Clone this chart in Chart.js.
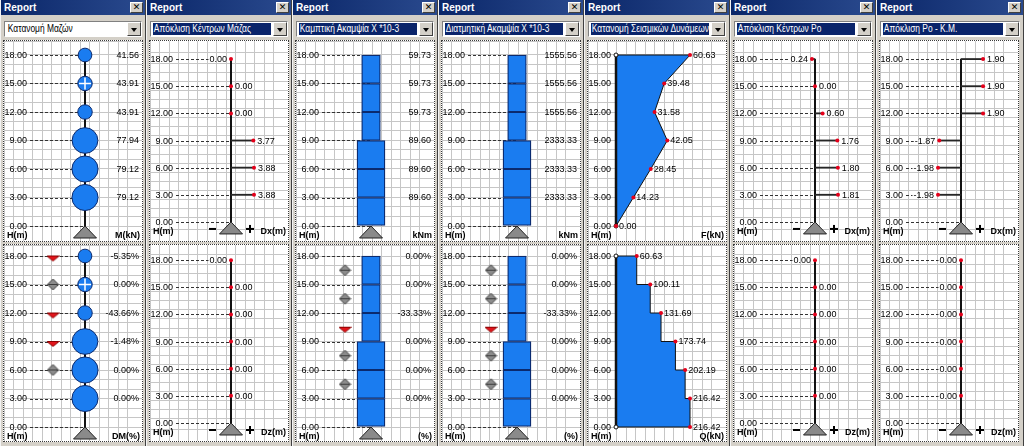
<!DOCTYPE html>
<html lang="el">
<head>
<meta charset="utf-8">
<title>Report</title>
<script src="https://cdn.jsdelivr.net/npm/chart.js@4.4.1/dist/chart.umd.min.js"></script>
<style>
  html, body { margin: 0; padding: 0; }
  body { width: 1024px; height: 446px; overflow: hidden; background: #d4d0c8; position: relative;
         font-family: "Liberation Sans", Arial, sans-serif; }
  .win { position: absolute; top: 0; height: 446px; box-sizing: border-box; background: #d4d0c8;
         border-left: 1px solid #f4f4f4; border-right: 1px solid #404040; }
  .cap { position: absolute; left: 0; right: 0; top: 0; height: 15px; box-sizing: border-box; padding-left: 3px;
         background: linear-gradient(90deg, #0a2668, #2a4a8e); color: #fff;
         font: bold 10px "Liberation Sans", Arial, sans-serif; line-height: 15px; }
  .xbtn { position: absolute; right: 2px; top: 2px; width: 13px; height: 11px; box-sizing: border-box; background: #d4d0c8;
          border: 1px solid; border-color: #fff #404040 #404040 #fff; color: #000;
          font: bold 9px "DejaVu Sans", sans-serif; line-height: 9px; text-align: center; }
  .combo { position: absolute; left: 3px; right: 3px; top: 21px; height: 16px; box-sizing: border-box; background: #fff;
           border: 1px solid; border-color: #808080 #fff #fff #808080; }
  .combo .txt { position: absolute; left: 2px; top: 1px; height: 12px; right: 16px; overflow: hidden; white-space: nowrap;
                font: 10px "Liberation Sans", Arial, sans-serif; line-height: 12px; color: #000; }
  .combo .txt span { display: inline-block; padding-left: 1px; transform: scaleX(0.84); transform-origin: 0 50%; }
  .combo.sel .txt { background: #0a246a; color: #fff; }
  .combo .arr { position: absolute; right: 0; top: 0; width: 14px; height: 14px; box-sizing: border-box; background: #d4d0c8;
                border: 1px solid; border-color: #fff #404040 #404040 #fff; }
  .combo .arr::after { content: ""; position: absolute; left: 3px; top: 5px; border-left: 3.5px solid transparent;
                       border-right: 3.5px solid transparent; border-top: 4px solid #000; }
  .frame { position: absolute; left: 2px; width: 140px; box-sizing: border-box; border: 1px dotted #3a3a3a; background: #fff; }
  .frame canvas { display: block; }
</style>
</head>
<body>
<script>
'use strict';

var LEVELS = [18, 15, 12, 9, 6, 3];              // cotas de planta H (m), de arriba abajo
var BASE_LEVEL = 0;
var MASS = [41.56, 43.91, 43.91, 77.94, 79.12, 79.12];        // M (kN)
var MASS_DIFF = [-5.35, 0.00, -43.66, -1.48, 0.00, 0.00];     // DM (%)
var MASS_MARKED = [15];                                        // planta resaltada (cruz)
var CM_DX = [-0, 0, 0, 3.77, 3.88, 3.88];                      // -0: rotulado a la izquierda
var CM_DZ = [-0, 0, 0, 0, 0, 0];
var BEND_K = [59.73, 59.73, 59.73, 89.60, 89.60, 89.60];      // kNm *10-3
var SHEAR_K = [1555.56, 1555.56, 1555.56, 2333.33, 2333.33, 2333.33];
var K_DIFF = [0.00, 0.00, -33.33, 0.00, 0.00, 0.00];          // (%)
var FORCE_LEVELS = [18, 15, 12, 9, 6, 3, 0];
var SEISMIC_F = [60.63, 39.48, 31.58, 42.05, 28.45, 14.23, 0.00];     // F (kN)
var STOREY_Q = [60.63, 100.11, 131.69, 173.74, 202.19, 216.42, 216.42]; // Q (kN)
var RO_DX = [-0.24, 0, 0.60, 1.76, 1.80, 1.81];
var RO_DX_TEXT = ['0.24', '0.00', '0.60', '1.76', '1.80', '1.81'];
var RO_DZ = [-0, 0, 0, 0, 0, 0];
var ROCM_DX = [1.90, 1.90, 1.90, -1.87, -1.98, -1.98];
var ROCM_DZ = [-0, -0, -0, -0, -0, -0];
var TITLES = ['Κατανομή Μαζών', 'Απόκλιση Κέντρων Μάζας', 'Καμπτική Ακαμψία X *10-3',
              'Διατμητική Ακαμψία X *10-3', 'Κατανομή Σεισμικών Δυνάμεων',
              'Απόκλιση Κέντρων Ρο', 'Απόκλιση Ρο - Κ.Μ.'];

// ── Geometría de los marcos (px) ─────────────────────────
var PANEL_X = [0, 146, 292, 438, 584, 730, 876];
var CW = 138, TOP_H = 200, BOT_H = 196;
var TOP_PAD = 14, BOT_PAD = 11;   // del borde superior a la cota más alta
var PX_M = 9.5;                   // px por metro = celda de rejilla
var LABEL_R = 23;                 // borde derecho de las cotas
var AXIS_X = 81;                  // eje del edificio
var VALUE_R = 135;                // borde derecho de los valores
var MARK_X = 49;                  // columna de marcadores de variación
var F_AXIS_X = 28;                // eje de los diagramas de fuerzas
var ARM_PX = 23, BAR_PX = 28, F_PX = 74;
var BUBBLE_K = 0.165;

var BLUE = '#1a7cf0', NAVY = '#0b2a6e', INK = '#111', TXT = '#000', GRID = '#c6c6c6', RED = '#e4001b';
var FONT = '9px "Liberation Sans", Arial, sans-serif';

// ── Utilidades de dibujo ─────────────────────────────────
function X(chart, v) { return chart.scales.x.getPixelForValue(v); }
function Y(chart, v) { return chart.scales.y.getPixelForValue(v); }
function fmt(v) { return v.toFixed(2); }
function onLeft(v) { return v < 0 || Object.is(v, -0); }
function allLevels() { return LEVELS.concat([BASE_LEVEL]); }
function lowerOf(i) { return i + 1 < LEVELS.length ? LEVELS[i + 1] : BASE_LEVEL; }

function put(ctx, s, x, y, align, bold) {
  ctx.save();
  ctx.font = (bold ? 'bold ' : '') + FONT;
  ctx.fillStyle = TXT; ctx.textAlign = align; ctx.textBaseline = 'middle';
  ctx.fillText(s, x, y + 0.5);
  ctx.restore();
}
function textW(ctx, s) {
  ctx.save(); ctx.font = FONT; var w = ctx.measureText(s).width; ctx.restore(); return w;
}
function leader(ctx, x0, x1, y) {
  if (x1 <= x0) return;
  var yy = Math.round(y) + 0.5;
  ctx.save(); ctx.strokeStyle = '#333'; ctx.lineWidth = 1; ctx.setLineDash([3, 2]);
  ctx.beginPath(); ctx.moveTo(x0, yy); ctx.lineTo(x1, yy); ctx.stroke(); ctx.restore();
}
function cotes(chart, ctx) {
  allLevels().forEach(function (h) { put(ctx, fmt(h), LABEL_R, Y(chart, h), 'right'); });
}
function footer(chart, ctx, unit) {
  var y = Y(chart, BASE_LEVEL) + 9;
  put(ctx, 'H(m)', 3, y, 'left', true);
  put(ctx, unit, CW - 2, y, 'right', true);
}
function support(chart, ctx, signs) {
  var cx = X(chart, 0), y0 = Y(chart, BASE_LEVEL);
  ctx.save();
  ctx.fillStyle = '#8a8a8a'; ctx.strokeStyle = '#222'; ctx.lineWidth = 1;
  ctx.beginPath(); ctx.moveTo(cx, y0); ctx.lineTo(cx + 11.5, y0 + 12); ctx.lineTo(cx - 11.5, y0 + 12);
  ctx.closePath(); ctx.fill(); ctx.stroke();
  if (signs) {
    ctx.fillStyle = '#000';
    ctx.fillRect(cx - 22, y0 + 6, 7, 2);
    ctx.fillRect(cx + 15, y0 + 6, 8, 2);
    ctx.fillRect(cx + 18, y0 + 3, 2, 8);
  }
  ctx.restore();
}

// ── Marcadores de variación (rombo = 0, triángulo = cambio) ──
function markImage(kind) {
  var c = document.createElement('canvas'); c.width = 13; c.height = 13;
  var g = c.getContext('2d');
  g.lineWidth = 1;
  if (kind === 'diamond') {
    g.fillStyle = '#8c8c8c'; g.strokeStyle = '#3c3c3c';
    g.beginPath(); g.moveTo(6.5, 1); g.lineTo(12, 6.5); g.lineTo(6.5, 12); g.lineTo(1, 6.5); g.closePath();
    g.fill(); g.stroke();
    g.beginPath(); g.moveTo(1.5, 6.5); g.lineTo(11.5, 6.5); g.stroke();
  } else {
    g.fillStyle = '#e2141b'; g.strokeStyle = '#8c0000';
    g.beginPath(); g.moveTo(0.5, 6.5); g.lineTo(12.5, 6.5);
    g.lineTo(6.5, kind === 'down' ? 11.5 : 1.5); g.closePath(); g.fill(); g.stroke();
  }
  return c;
}
var MARKS = { down: markImage('down'), up: markImage('up'), diamond: markImage('diamond') };

function diffMarks(ys, diffs) {
  var pts = [], styles = [];
  for (var i = 0; i < ys.length - 1; i++) {
    pts.push({ x: MARK_X, y: ys[i] });
    styles.push(diffs[i] < 0 ? MARKS.down : diffs[i] > 0 ? MARKS.up : MARKS.diamond);
  }
  return { type: 'scatter', xAxisID: 'px', yAxisID: 'y', order: 1, data: pts,
           pointStyle: styles, pointRadius: 6 };
}

// ── Escalas: rejilla en px, datos centrados en el eje ────
function scalesFor(h, topPad, cx, ppu) {
  var yMax = LEVELS[0] + topPad / PX_M;
  var yMin = yMax - h / PX_M;
  return {
    x: { type: 'linear', display: false, min: -cx / ppu, max: (CW - cx) / ppu, ticks: { stepSize: CW / ppu } },
    px: { type: 'linear', axis: 'x', position: 'bottom', min: 0, max: CW,
          ticks: { display: false, stepSize: PX_M }, grid: { color: GRID, drawTicks: false }, border: { display: false },
          afterFit: function (s) { s.height = 0; } },
    y: { type: 'linear', position: 'left', min: yMin, max: yMax,
         ticks: { display: false, stepSize: 1 }, grid: { color: GRID, drawTicks: false }, border: { display: false },
         afterFit: function (s) { s.width = 0; } }
  };
}

function towerLine(top, width) {
  return { type: 'line', xAxisID: 'x', yAxisID: 'y', order: 9,
           data: [{ x: 0, y: top }, { x: 0, y: BASE_LEVEL }],
           borderColor: INK, borderWidth: width || 2, pointRadius: 0 };
}

// ── Panel: distribución de masas ─────────────────────────
function massSpec(h, pad, withDiff) {
  var ds = [
    { type: 'scatter', xAxisID: 'x', yAxisID: 'y', order: 0,
      data: MASS_MARKED.map(function (m) { return { x: 0, y: m }; }),
      pointStyle: 'cross', pointRadius: 6, pointBorderColor: '#fff', pointBorderWidth: 1.5 },
    { type: 'bubble', xAxisID: 'x', yAxisID: 'y', order: 2,
      data: LEVELS.map(function (lv, i) { return { x: 0, y: lv, r: MASS[i] * BUBBLE_K }; }),
      backgroundColor: BLUE, borderColor: NAVY, borderWidth: 1 },
    towerLine(LEVELS[0])
  ];
  if (withDiff) ds.push(diffMarks(LEVELS, MASS_DIFF));
  return {
    scales: scalesFor(h, pad, AXIS_X, 1), datasets: ds,
    under: function (chart, ctx) {
      allLevels().forEach(function (lv) { leader(ctx, LABEL_R + 3, X(chart, 0), Y(chart, lv)); });
    },
    over: function (chart, ctx) {
      cotes(chart, ctx);
      LEVELS.forEach(function (lv, i) {
        var s = withDiff ? fmt(MASS_DIFF[i]) + '%' : fmt(MASS[i]);
        put(ctx, s, VALUE_R, Y(chart, lv), 'right');
      });
      footer(chart, ctx, withDiff ? 'DM(%)' : 'M(kN)');
      support(chart, ctx, false);
    }
  };
}

// ── Panel: desplazamientos (Dx / Dz) ─────────────────────
function dispSpec(h, pad, vals, texts, unit) {
  var maxAbs = Math.max.apply(null, vals.map(Math.abs)) || 1;
  var ppu = ARM_PX / maxAbs;
  var ds = [
    { type: 'scatter', xAxisID: 'x', yAxisID: 'y', order: 0,
      data: LEVELS.map(function (lv, i) { return { x: vals[i], y: lv }; }),
      pointRadius: 2, pointBackgroundColor: RED, pointBorderWidth: 0 },
    { type: 'bar', indexAxis: 'y', xAxisID: 'x', yAxisID: 'y', order: 4, grouped: false, barThickness: 1.2,
      data: LEVELS.map(function (lv, i) { return { y: lv, x: [0, vals[i]] }; }),
      backgroundColor: '#262626', borderWidth: 0 },
    towerLine(LEVELS[0])
  ];
  return {
    scales: scalesFor(h, pad, AXIS_X, ppu), datasets: ds,
    under: function (chart, ctx) {
      LEVELS.forEach(function (lv, i) {
        var end = onLeft(vals[i]) ? X(chart, vals[i]) - 5 - textW(ctx, texts[i]) : X(chart, 0);
        leader(ctx, LABEL_R + 3, end, Y(chart, lv));
      });
      leader(ctx, LABEL_R + 3, X(chart, 0), Y(chart, BASE_LEVEL));
    },
    over: function (chart, ctx) {
      cotes(chart, ctx);
      LEVELS.forEach(function (lv, i) {
        var left = onLeft(vals[i]);
        put(ctx, texts[i], X(chart, vals[i]) + (left ? -4 : 4), Y(chart, lv), left ? 'right' : 'left');
      });
      footer(chart, ctx, unit);
      support(chart, ctx, true);
    }
  };
}

// ── Panel: rigideces por planta ──────────────────────────
function stiffSpec(h, pad, vals, unit, diffs) {
  var maxV = Math.max.apply(null, vals);
  var ds = LEVELS.map(function (lv, i) {
    return { type: 'bar', xAxisID: 'x', yAxisID: 'y', order: 5, grouped: false,
             barThickness: vals[i] / maxV * BAR_PX,
             data: [{ x: 0, y: [lowerOf(i), lv] }],
             backgroundColor: BLUE, borderColor: NAVY, borderWidth: 1.3, borderSkipped: false };
  });
  if (diffs) {
    var mids = LEVELS.map(function (lv, i) { return (lv + lowerOf(i)) / 2; });
    ds.unshift(diffMarks(mids, diffs));
  }
  return {
    scales: scalesFor(h, pad, AXIS_X, 1), datasets: ds,
    under: function (chart, ctx) {
      allLevels().forEach(function (lv) { leader(ctx, LABEL_R + 3, X(chart, 0), Y(chart, lv)); });
    },
    over: function (chart, ctx) {
      cotes(chart, ctx);
      LEVELS.forEach(function (lv, i) {
        put(ctx, diffs ? fmt(diffs[i]) + '%' : fmt(vals[i]), VALUE_R, Y(chart, lv), 'right');
      });
      footer(chart, ctx, unit);
      support(chart, ctx, false);
    }
  };
}

// ── Panel: fuerzas sísmicas / cortante ───────────────────
function forceSpec(h, pad, vals, unit, stepped) {
  var ppu = F_PX / Math.max.apply(null, vals);
  var top = FORCE_LEVELS[0];
  var pts = FORCE_LEVELS.map(function (lv, i) { return { x: vals[i], y: lv }; });
  var ds = [
    { type: 'scatter', xAxisID: 'x', yAxisID: 'y', order: 0, data: pts,
      pointRadius: 2, pointBackgroundColor: RED, pointBorderWidth: 0 },
    { type: 'scatter', xAxisID: 'x', yAxisID: 'y', order: 1,
      data: [{ x: 0, y: top }, { x: 0, y: BASE_LEVEL }],
      pointRadius: 2, pointBackgroundColor: '#fff', pointBorderColor: '#111', pointBorderWidth: 1 },
    towerLine(top, 2.5),
    { type: 'line', indexAxis: 'y', xAxisID: 'x', yAxisID: 'y', order: 10,
      data: [{ x: 0, y: top }].concat(pts, [{ x: 0, y: BASE_LEVEL }]),
      stepped: stepped ? 'after' : false, fill: 'origin',
      backgroundColor: BLUE, borderColor: '#111', borderWidth: 1, pointRadius: 0 }
  ];
  return {
    scales: scalesFor(h, pad, F_AXIS_X, ppu), datasets: ds,
    under: function (chart, ctx) {
      FORCE_LEVELS.forEach(function (lv) { leader(ctx, LABEL_R + 3, X(chart, 0) - 2, Y(chart, lv)); });
    },
    over: function (chart, ctx) {
      cotes(chart, ctx);
      FORCE_LEVELS.forEach(function (lv, i) { put(ctx, fmt(vals[i]), X(chart, vals[i]) + 3, Y(chart, lv), 'left'); });
      footer(chart, ctx, unit);
    }
  };
}

function makeChart(canvas, spec) {
  return new Chart(canvas, {
    type: 'scatter',
    data: { datasets: spec.datasets },
    options: {
      responsive: false, animation: false, devicePixelRatio: 1, events: [],
      layout: { padding: 0, autoPadding: false },
      plugins: { legend: { display: false }, tooltip: { enabled: false } },
      scales: spec.scales
    },
    plugins: [{
      id: 'decor',
      beforeDatasetsDraw: function (chart) { if (spec.under) spec.under(chart, chart.ctx); },
      afterDatasetsDraw: function (chart) { if (spec.over) spec.over(chart, chart.ctx); }
    }]
  });
}

// ── Ventanas ─────────────────────────────────────────────
var PANELS = [
  [massSpec(TOP_H, TOP_PAD, false), massSpec(BOT_H, BOT_PAD, true)],
  [dispSpec(TOP_H, TOP_PAD, CM_DX, CM_DX.map(fmt), 'Dx(m)'), dispSpec(BOT_H, BOT_PAD, CM_DZ, CM_DZ.map(fmt), 'Dz(m)')],
  [stiffSpec(TOP_H, TOP_PAD, BEND_K, 'kNm', null), stiffSpec(BOT_H, BOT_PAD, BEND_K, '(%)', K_DIFF)],
  [stiffSpec(TOP_H, TOP_PAD, SHEAR_K, 'kNm', null), stiffSpec(BOT_H, BOT_PAD, SHEAR_K, '(%)', K_DIFF)],
  [forceSpec(TOP_H, TOP_PAD, SEISMIC_F, 'F(kN)', false), forceSpec(BOT_H, BOT_PAD, STOREY_Q, 'Q(kN)', true)],
  [dispSpec(TOP_H, TOP_PAD, RO_DX, RO_DX_TEXT, 'Dx(m)'), dispSpec(BOT_H, BOT_PAD, RO_DZ, RO_DZ.map(fmt), 'Dz(m)')],
  [dispSpec(TOP_H, TOP_PAD, ROCM_DX, ROCM_DX.map(fmt), 'Dx(m)'), dispSpec(BOT_H, BOT_PAD, ROCM_DZ, ROCM_DZ.map(fmt), 'Dz(m)')]
];

PANEL_X.forEach(function (x, i) {
  var win = document.createElement('div');
  win.className = 'win';
  win.style.left = x + 'px';
  win.style.width = (i === PANEL_X.length - 1 ? 1024 - x : PANEL_X[i + 1] - x) + 'px';
  win.innerHTML =
    '<div class="cap">Report<div class="xbtn">✕</div></div>' +
    '<div class="combo' + (i ? ' sel' : '') + '"><div class="txt"><span>' + TITLES[i] + '</span></div><div class="arr"></div></div>' +
    '<div class="frame" style="top:40px"><canvas width="' + CW + '" height="' + TOP_H + '"></canvas></div>' +
    '<div class="frame" style="top:244px"><canvas width="' + CW + '" height="' + BOT_H + '"></canvas></div>';
  document.body.appendChild(win);
  var cvs = win.querySelectorAll('canvas');
  makeChart(cvs[0], PANELS[i][0]);
  makeChart(cvs[1], PANELS[i][1]);
});
</script>
</body>
</html>
